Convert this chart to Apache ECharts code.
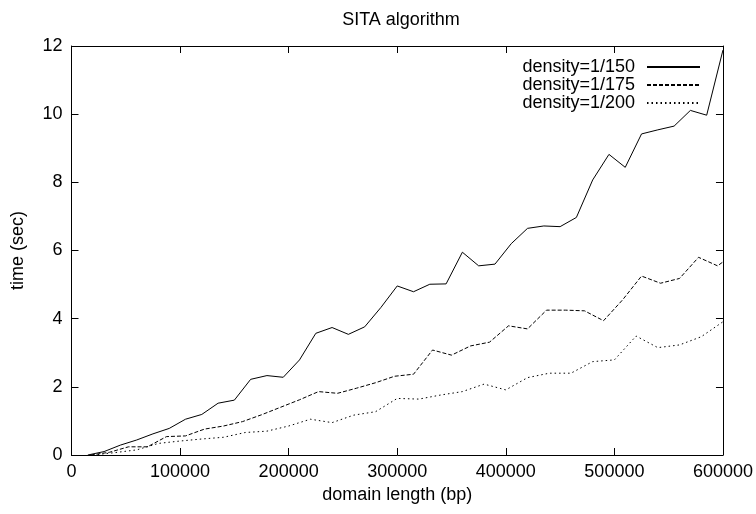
<!DOCTYPE html>
<html>
<head>
<meta charset="utf-8">
<script src="https://cdn.jsdelivr.net/npm/echarts@6/dist/echarts.min.js"></script>
<style>
  html, body { margin: 0; padding: 0; background: #fff; }
  #chart { width: 756px; height: 514px; }
</style>
</head>
<body>
<div id="chart"></div>
<script>
// domain length (bp) for each run, one array per density
const x150 = [15000, 30000, 45000, 60000, 75000, 90000, 105000, 120000, 135000, 150000,
  165000, 180000, 195000, 210000, 225000, 240000, 255000, 270000, 285000, 300000,
  315000, 330000, 345000, 360000, 375000, 390000, 405000, 420000, 435000, 450000,
  465000, 480000, 495000, 510000, 525000, 540000, 555000, 570000, 585000, 600000]
const t150 = [0.00, 0.10, 0.29, 0.44, 0.62, 0.78, 1.05, 1.19, 1.52, 1.61,
  2.22, 2.33, 2.28, 2.79, 3.57, 3.74, 3.54, 3.76, 4.33, 4.96,
  4.79, 5.01, 5.02, 5.95, 5.55, 5.60, 6.20, 6.65, 6.72, 6.70,
  6.97, 8.07, 8.82, 8.44, 9.42, 9.54, 9.65, 10.11, 9.97, 11.88]

const x175 = [17500, 35000, 52500, 70000, 87500, 105000, 122500, 140000, 157500, 175000,
  192500, 210000, 227500, 245000, 262500, 280000, 297500, 315000, 332500, 350000,
  367500, 385000, 402500, 420000, 437500, 455000, 472500, 490000, 507500, 525000,
  542500, 560000, 577500, 595000, 612500]
const t175 = [0.00, 0.08, 0.24, 0.24, 0.54, 0.56, 0.76, 0.85, 0.98, 1.18,
  1.40, 1.62, 1.86, 1.81, 1.96, 2.12, 2.31, 2.37, 3.08, 2.93,
  3.20, 3.31, 3.79, 3.70, 4.25, 4.25, 4.23, 3.94, 4.55, 5.25,
  5.04, 5.18, 5.80, 5.55, 5.95]

const x200 = [20000, 40000, 60000, 80000, 100000, 120000, 140000, 160000, 180000, 200000,
  220000, 240000, 260000, 280000, 300000, 320000, 340000, 360000, 380000, 400000,
  420000, 440000, 460000, 480000, 500000, 520000, 540000, 560000, 580000, 600000]
const t200 = [0.00, 0.07, 0.15, 0.34, 0.41, 0.47, 0.52, 0.66, 0.70, 0.85,
  1.05, 0.95, 1.17, 1.27, 1.66, 1.64, 1.76, 1.86, 2.08, 1.91,
  2.27, 2.40, 2.40, 2.74, 2.79, 3.49, 3.15, 3.23, 3.47, 3.91]

const pairs = (xs, ys) => xs.map((x, i) => [x, ys[i]])

const FONT = 'Liberation Sans'
const lbl = { color: '#000', fontFamily: FONT, fontSize: 18 }
const frame = { show: true, onZero: false, lineStyle: { color: '#000', width: 1 } }
const ticks = { show: true, inside: true, length: 7, lineStyle: { color: '#000', width: 1 } }

function line(name, data, type) {
  return {
    name: name,
    type: 'line',
    data: data,
    symbol: 'none',
    silent: true,
    clip: true,
    lineStyle: { color: '#000', width: 1, type: type },
    itemStyle: { color: '#000' }
  }
}

let chart = echarts.init(document.getElementById('chart'), null, { renderer: 'canvas' })
chart.setOption({
  animation: false,
  backgroundColor: '#fff',
  title: {
    text: 'SITA algorithm',
    left: 396, top: 6, textAlign: 'center',
    textStyle: { color: '#000', fontFamily: FONT, fontSize: 18, fontWeight: 'normal' }
  },
  legend: {
    orient: 'vertical',
    right: 50, top: 53,
    align: 'right',
    itemWidth: 53, itemHeight: 10, itemGap: 0,
    itemStyle: { opacity: 0 },
    textStyle: { color: '#000', fontFamily: FONT, fontSize: 18, lineHeight: 17.5, padding: [0, 7, 0, 0] },
    selectedMode: false,
    data: ['density=1/150', 'density=1/175', 'density=1/200']
  },
  grid: { left: 71.5, right: 33, top: 46, bottom: 59 },
  xAxis: [{
    type: 'value', min: 0, max: 600000, interval: 100000,
    position: 'bottom',
    name: 'domain length (bp)', nameLocation: 'middle', nameGap: 26,
    nameTextStyle: lbl,
    axisLine: frame, axisTick: ticks,
    axisLabel: Object.assign({ margin: 8, formatter: v => String(v) }, lbl),
    splitLine: { show: false }
  }, {
    type: 'value', min: 0, max: 600000, interval: 100000,
    position: 'top',
    axisLine: frame, axisTick: ticks,
    axisLabel: { show: false },
    splitLine: { show: false }
  }],
  yAxis: [{
    type: 'value', min: 0, max: 12, interval: 2,
    position: 'left',
    name: 'time (sec)', nameLocation: 'middle', nameGap: 44,
    nameTextStyle: lbl,
    axisLine: frame, axisTick: ticks,
    axisLabel: Object.assign({ margin: 9 }, lbl),
    splitLine: { show: false }
  }, {
    type: 'value', min: 0, max: 12, interval: 2,
    position: 'right',
    axisLine: frame, axisTick: ticks,
    axisLabel: { show: false },
    splitLine: { show: false }
  }],
  series: [
    line('density=1/150', pairs(x150, t150), 'solid'),
    line('density=1/175', pairs(x175, t175), [4, 2]),
    line('density=1/200', pairs(x200, t200), [1.5, 3])
  ]
})
</script>
</body>
</html>
